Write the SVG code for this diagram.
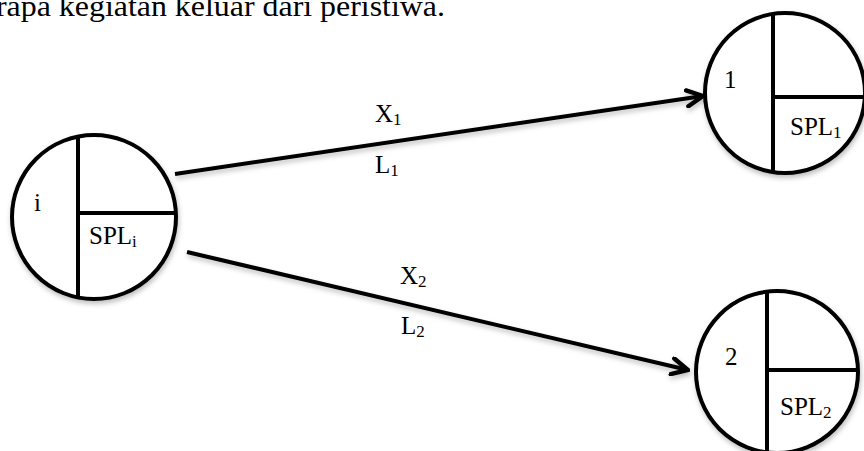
<svg xmlns="http://www.w3.org/2000/svg" width="864" height="451" viewBox="0 0 864 451">
<style>
.n{fill:#fff;stroke:#000;stroke-width:4}
.d{stroke:#000;stroke-width:4;fill:none}
text{font-family:"Liberation Serif","Times New Roman",serif;font-size:25px;fill:#000}
.s{font-size:17px}
.t{font-size:30px}
.c{stroke:#000;stroke-width:4;fill:none;marker-end:url(#ah)}
.sh{filter:url(#shadow)}
</style>
<defs>
<filter id="shadow" x="-10%" y="-10%" width="120%" height="130%">
<feDropShadow dx="1" dy="3" stdDeviation="2.5" flood-color="#000" flood-opacity="0.25"/>
</filter>
<marker id="ah" viewBox="0 0 10 10" refX="9" refY="5" markerWidth="5" markerHeight="5" orient="auto" markerUnits="strokeWidth">
<path d="M1,1 L9,5 L1,9" fill="none" stroke="#000" stroke-width="2.2" stroke-linecap="round"/>
</marker>
</defs>
<rect width="864" height="451" fill="#fff"/>
<text class="t" x="-4" y="16" textLength="449" lengthAdjust="spacingAndGlyphs">rapa kegiatan keluar dari peristiwa.</text>
<g id="connectors">
<g class="sh">
<line class="c" x1="175" y1="174" x2="703" y2="96"/>
<line class="c" x1="187" y1="252" x2="688" y2="370"/>
</g>
<text x="375" y="122">X<tspan class="s" dy="3">1</tspan></text>
<text x="375" y="173">L<tspan class="s" dy="3">1</tspan></text>
<text x="400" y="284">X<tspan class="s" dy="3">2</tspan></text>
<text x="401" y="334">L<tspan class="s" dy="3">2</tspan></text>
</g>
<g id="node-i">
<g class="sh">
<circle class="n" cx="94" cy="217" r="82"/>
<line class="d" x1="78" y1="138" x2="78" y2="296"/>
<line class="d" x1="78" y1="213" x2="176" y2="213"/>
</g>
<text x="34" y="211">i</text>
<text x="89" y="244">SPL<tspan class="s" dy="3">i</tspan></text>
</g>
<g id="node-1">
<g class="sh">
<circle class="n" cx="785" cy="93" r="80"/>
<line class="d" x1="773" y1="14" x2="773" y2="172"/>
<line class="d" x1="773" y1="97" x2="865" y2="97"/>
</g>
<text x="724" y="88">1</text>
<text x="790" y="135">SPL<tspan class="s" dy="3">1</tspan></text>
</g>
<g id="node-2">
<g class="sh">
<circle class="n" cx="777" cy="372" r="81"/>
<line class="d" x1="767" y1="292" x2="767" y2="452"/>
<line class="d" x1="767" y1="370" x2="858" y2="370"/>
</g>
<text x="725" y="365">2</text>
<text x="780" y="415">SPL<tspan class="s" dy="3">2</tspan></text>
</g>
</svg>
